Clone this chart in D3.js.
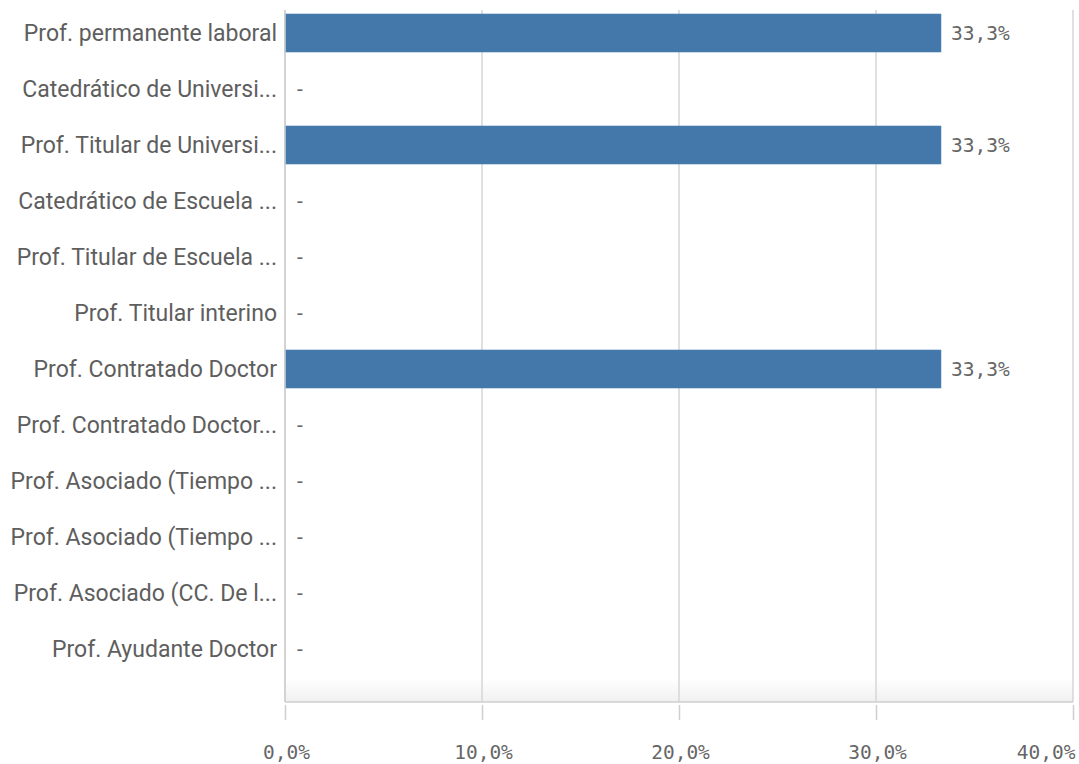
<!DOCTYPE html>
<html>
<head>
<meta charset="utf-8">
<script src="https://cdn.jsdelivr.net/npm/d3@7.9.0/dist/d3.min.js"></script>
<style>
  html, body { margin: 0; padding: 0; background: #fff; }
  svg { display: block; }
  .cat { font-family: Roboto, "Noto Sans", sans-serif; font-size: 23px; fill: #5e5e5e; }
  .num { font-family: "DejaVu Sans Mono", monospace; font-size: 19.5px; fill: #666; }
</style>
</head>
<body>
<svg id="chart" width="1079" height="764"></svg>
<script>
const categories = [
  "Prof. permanente laboral",
  "Catedrático de Universi...",
  "Prof. Titular de Universi...",
  "Catedrático de Escuela ...",
  "Prof. Titular de Escuela ...",
  "Prof. Titular interino",
  "Prof. Contratado Doctor",
  "Prof. Contratado Doctor...",
  "Prof. Asociado (Tiempo ...",
  "Prof. Asociado (Tiempo ...",
  "Prof. Asociado (CC. De l...",
  "Prof. Ayudante Doctor"
];
const values = [33.3, null, 33.3, null, null, null, 33.3, null, null, null, null, null];
const ticks = [0, 10, 20, 30, 40];

const svg = d3.select("#chart");
const mLeft = 285, mRight = 1073, mTop = 5, plotBottom = 702;
const rowsBottom = 677;

const x = d3.scaleLinear().domain([0, 40]).range([mLeft, mRight]);
const y = d3.scaleBand().domain(d3.range(categories.length)).range([mTop, rowsBottom]).paddingInner(0.32).paddingOuter(0.16);

const fmt = v => v.toFixed(1).replace(".", ",") + "%";

// bottom fade
const defs = svg.append("defs");
const grad = defs.append("linearGradient").attr("id", "fade").attr("x1", 0).attr("x2", 0).attr("y1", 0).attr("y2", 1);
grad.append("stop").attr("offset", "0%").attr("stop-color", "#fff");
grad.append("stop").attr("offset", "100%").attr("stop-color", "#f0f0f0");
svg.append("rect").attr("x", mLeft).attr("y", 678).attr("width", mRight - mLeft).attr("height", plotBottom - 678).attr("fill", "url(#fade)");

// grid lines
svg.append("g").selectAll("line").data(ticks).join("line")
  .attr("x1", d => x(d)).attr("x2", d => x(d))
  .attr("y1", 10).attr("y2", plotBottom)
  .attr("stroke", "#d6d6d6").attr("stroke-width", 1.5);

// bottom axis line
svg.append("line").attr("x1", mLeft).attr("x2", mRight).attr("y1", plotBottom).attr("y2", plotBottom)
  .attr("stroke", "#cfcfcf").attr("stroke-width", 1.5);

// axis ticks + labels
const axis = d3.axisBottom(x).tickValues(ticks).tickSize(15).tickPadding(0).tickFormat(fmt);
const ag = svg.append("g").attr("transform", `translate(0,${plotBottom + 3})`).call(axis);
ag.select(".domain").remove();
ag.selectAll(".tick line").attr("stroke", "#cfcfcf").attr("stroke-width", 1.5);
ag.selectAll(".tick text").attr("class", "num").attr("fill", null)
  .attr("y", 54).attr("dy", null)
  .attr("text-anchor", (d, i) => i === ticks.length - 1 ? "end" : "middle")
  .attr("dx", (d, i) => i === ticks.length - 1 ? 2 : 1);

// bars
const data = categories.map((c, i) => ({ c, i, v: values[i] }));
svg.append("g").selectAll("rect").data(data.filter(d => d.v != null)).join("rect")
  .attr("x", x(0)).attr("y", d => y(d.i))
  .attr("width", d => x(d.v) - x(0)).attr("height", y.bandwidth())
  .attr("fill", "#4477aa").attr("stroke", "#5a89b8").attr("stroke-width", 0.5);

// value labels
svg.append("g").selectAll("text").data(data).join("text")
  .attr("class", "num")
  .attr("x", d => d.v != null ? x(d.v) + 10 : x(0) + 9)
  .attr("y", d => y(d.i) + y.bandwidth() / 2)
  .attr("dy", "0.35em")
  .text(d => d.v != null ? fmt(d.v) : "-");

// category labels
svg.append("g").selectAll("text").data(data).join("text")
  .attr("class", "cat")
  .attr("x", mLeft - 8)
  .attr("y", d => y(d.i) + y.bandwidth() / 2)
  .attr("dy", "0.35em")
  .attr("text-anchor", "end")
  .text(d => d.c);

// left axis line
svg.append("line").attr("x1", mLeft).attr("x2", mLeft).attr("y1", 10).attr("y2", plotBottom)
  .attr("stroke", "#cfcfcf").attr("stroke-width", 1.5);
</script>
</body>
</html>
